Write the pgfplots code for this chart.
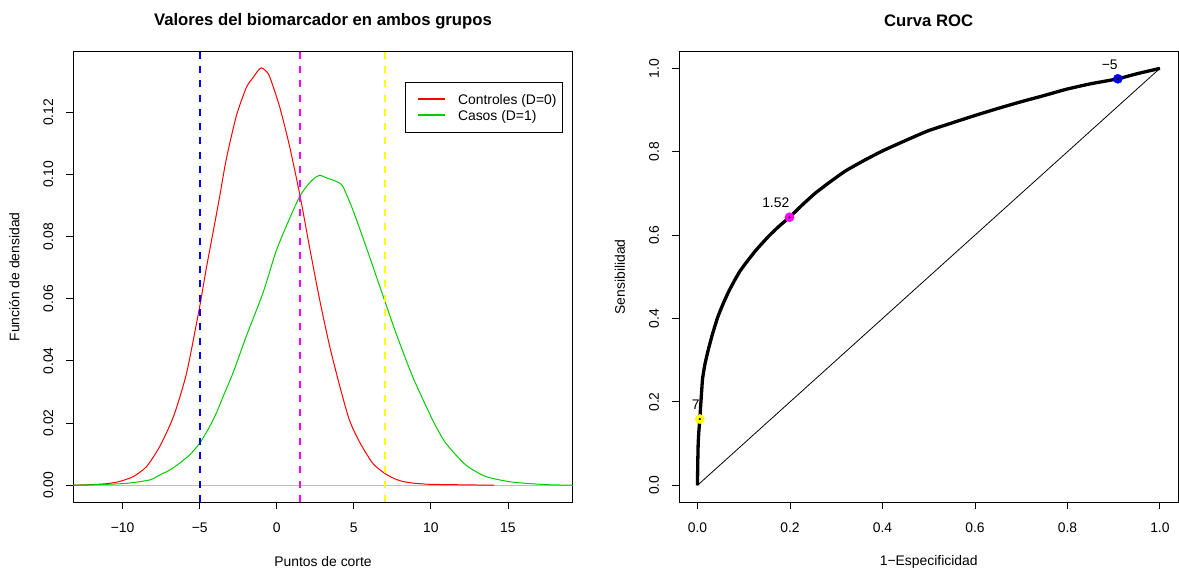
\documentclass[border=0pt]{standalone}
\usepackage{fontspec}
\setmainfont{Liberation Sans}
\usepackage{pgfplots}
\pgfplotsset{compat=1.18}

\definecolor{rred}{HTML}{FF0000}
\definecolor{rgreen}{HTML}{00CD00}
\definecolor{rblue}{HTML}{0000FF}
\definecolor{rmagenta}{HTML}{FF00FF}
\definecolor{ryellow}{HTML}{FFFF00}
\definecolor{rgray}{HTML}{BEBEBE}

\newcommand{\basefont}{\fontsize{13.9bp}{16bp}\selectfont}

\pgfplotsset{
  rbase/.style={
    scale only axis, width=499.4bp, height=450.3bp, anchor=south west,
    axis line style={black, line width=0.9bp},
    tick style={black, line width=0.9bp},
    tick align=outside, major tick length=7.2bp,
    xtick pos=bottom, ytick pos=left,
    tick label style={font=\basefont},
    xticklabel style={anchor=center, yshift=-18.8bp},
    yticklabel style={xshift=-17.8bp, rotate=90, anchor=center},
    every axis x label/.style={at={(axis description cs:0.5,0)}, anchor=center,
      yshift=-60bp, font=\basefont},
    every axis y label/.style={at={(axis description cs:0,0.5)}, anchor=center,
      xshift=-59bp, rotate=90, font=\basefont},
    title style={at={(axis description cs:0.5,1)}, anchor=center, yshift=25bp,
      font=\fontsize{16.7bp}{19bp}\selectfont\bfseries},
  },
  % legend sample: a filled 26bp x 1bp bar, 7bp in, 13bp before the text
  rkey/.style={legend image code/.code={%
      \fill[fill=#1] (7bp,-0.5bp) rectangle (33bp,0.5bp);
      \path (0bp,0bp) (46bp,0bp);}},
}

\begin{document}
\begin{tikzpicture}
\fill[white] (0,0) rectangle (1179bp,571bp);

% Densities of the biomarker in both groups
\begin{axis}[rbase, at={(73.3bp,69bp)},
  xmin=-13.2, xmax=19.2, ymin=-0.0054, ymax=0.1395,
  xtick={-10,-5,0,5,10,15},
  xticklabels={−10,−5,0,5,10,15},
  ytick={0,0.02,0.04,0.06,0.08,0.10,0.12},
  yticklabels={0.00,0.02,0.04,0.06,0.08,0.10,0.12},
  title={Valores del biomarcador en ambos grupos},
  xlabel={Puntos de corte},
  ylabel={Función de densidad},
  legend cell align=left,
  legend style={at={(0.98,0.933)}, anchor=north east,
    font=\basefont, inner xsep=6bp, inner ysep=8.7bp, row sep=-0.9bp,
    nodes={inner sep=0pt, text height=13.9bp, text depth=3bp}},
]
\addplot[rgray, line width=1bp, forget plot] coordinates {(-13.2,0) (19.2,0)};

\addplot[rred, line width=1bp, smooth, tension=0.4, rkey=rred] table {
x y
-13.2 0.0000
-12.0 0.0002
-11.0 0.0005
-10.2 0.0012
-9.3 0.0028
-8.45 0.0060
-7.6 0.0124
-6.7 0.0221
-5.85 0.0361
-5.0 0.0575
-4.6 0.0690
-4.14 0.0812
-3.7 0.0930
-3.28 0.1048
-2.63 0.1187
-1.98 0.1279
-1.55 0.1311
-1.2 0.1335
-0.99 0.1343
-0.75 0.1335
-0.47 0.1316
0.18 0.1219
0.83 0.1091
1.52 0.0929
2.12 0.0768
2.77 0.0600
3.42 0.0450
4.07 0.0322
4.71 0.0210
5.36 0.0140
6.22 0.0071
6.98 0.0039
7.6 0.0022
8.17 0.0012
9.0 0.0006
9.9 0.0003
11.0 0.0002
12.5 0.0001
14.1 0.0000
};
\addlegendentry{Controles (D=0)}

\addplot[rgreen, line width=1bp, smooth, tension=0.4, rkey=rgreen] table {
x y
-13.2 0.0000
-11.5 0.0002
-9.75 0.0006
-8.24 0.0017
-7.59 0.0033
-6.9 0.0050
-6.3 0.0071
-5.6 0.0100
-5.0 0.0135
-4.45 0.0180
-3.92 0.0232
-3.4 0.0295
-2.84 0.0361
-1.98 0.0479
-0.9 0.0618
-0.03 0.0755
0.83 0.0858
1.52 0.0932
2.12 0.0973
2.5 0.0990
2.77 0.0997
3.0 0.0994
3.22 0.0989
3.85 0.0978
4.28 0.0962
4.93 0.0887
5.79 0.0768
6.98 0.0597
7.73 0.0490
8.81 0.0350
10.11 0.0210
10.97 0.0135
12.27 0.0065
13.56 0.0028
15.29 0.0010
17.45 0.0002
19.2 0.0000
};
\addlegendentry{Casos (D=1)}

% Cut points
\addplot[rblue, line width=2bp, dash pattern=on 7bp off 7.3bp, forget plot]
  coordinates {(-5,-0.0054) (-5,0.1395)};
\addplot[rmagenta, line width=2bp, dash pattern=on 7bp off 7.3bp, forget plot]
  coordinates {(1.52,-0.0054) (1.52,0.1395)};
\addplot[ryellow, line width=2bp, dash pattern=on 7bp off 7.3bp, forget plot]
  coordinates {(7,-0.0054) (7,0.1395)};
\end{axis}

% ROC curve
\begin{axis}[rbase, at={(679bp,69bp)}, clip=false,
  xmin=-0.04, xmax=1.04, ymin=-0.04, ymax=1.04,
  xtick={0,0.2,0.4,0.6,0.8,1},
  xticklabels={0.0,0.2,0.4,0.6,0.8,1.0},
  ytick={0,0.2,0.4,0.6,0.8,1},
  yticklabels={0.0,0.2,0.4,0.6,0.8,1.0},
  title={Curva ROC},
  xlabel={1−Especificidad},
  ylabel={Sensibilidad},
]
\addplot[black, line width=0.8bp] coordinates {(0,0) (1,1)};

\addplot[black, line width=3.3bp, line join=round, smooth, tension=0.3] table {
x y
0 0
0.0005 0.05
0.0015 0.10
0.003 0.13
0.005 0.159
0.008 0.21
0.011 0.256
0.016 0.29
0.0235 0.326
0.033 0.365
0.044 0.404
0.056 0.437
0.068 0.466
0.080 0.491
0.092 0.514
0.108 0.538
0.125 0.562
0.141 0.582
0.157 0.601
0.178 0.623
0.199 0.643
0.227 0.673
0.255 0.701
0.287 0.728
0.320 0.754
0.360 0.779
0.400 0.802
0.450 0.827
0.498 0.850
0.550 0.869
0.600 0.887
0.650 0.904
0.700 0.920
0.750 0.935
0.798 0.950
0.850 0.963
0.909 0.975
0.950 0.987
1.0 1.0
};

\addplot[only marks, mark=*, mark size=4.6bp, rblue] coordinates {(0.909,0.975)};
\addplot[only marks, mark=*, mark size=4.6bp, rmagenta] coordinates {(0.199,0.643)};
\addplot[only marks, mark=*, mark size=4.6bp, ryellow] coordinates {(0.005,0.159)};

\addplot[only marks, mark=*, mark size=0.9bp, black,
  nodes near coords, point meta=explicit symbolic,
  every node near coord/.style={anchor=base east, inner sep=0pt, yshift=9.5bp,
    font=\basefont, text=black}]
  table[meta=lab] {
x y lab
0.909 0.975 −5
0.199 0.643 1.52
0.005 0.159 7
};
\end{axis}

\pgfresetboundingbox
\path[use as bounding box] (0,0) rectangle (1179bp,571bp);
\end{tikzpicture}
\end{document}
